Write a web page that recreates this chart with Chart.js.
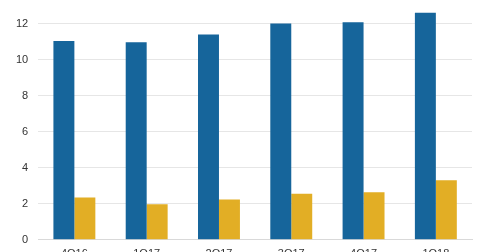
<!DOCTYPE html>
<html>
<head>
<meta charset="utf-8">
<script src="https://cdn.jsdelivr.net/npm/chart.js@4/dist/chart.umd.min.js"></script>
<style>
  html, body { margin: 0; padding: 0; background: #fff; }
  #wrap { width: 480px; height: 252px; overflow: hidden; }
  #chart { display: block; margin-top: -11px; }
</style>
</head>
<body>
<div id="wrap"><canvas id="chart" width="480" height="280"></canvas></div>
<script>
// quarters on the x axis
const quarters = ["4Q16", "1Q17", "2Q17", "3Q17", "4Q17", "1Q18"];
// blue series
const seriesA = [11.03, 10.96, 11.4, 12.0, 12.07, 12.6];
// yellow series
const seriesB = [2.35, 1.98, 2.24, 2.55, 2.64, 3.31];
// y tick labels
const yTicks = [0, 2, 4, 6, 8, 10, 12];

Chart.defaults.font.family = "'Liberation Sans', Arial, sans-serif";
Chart.defaults.font.size = 11;
Chart.defaults.color = "#333";

new Chart(document.getElementById("chart"), {
  type: "bar",
  data: {
    labels: quarters,
    datasets: [
      {
        data: seriesA,
        backgroundColor: "#16659b",
        categoryPercentage: 0.58,
        barPercentage: 1,
      },
      {
        data: seriesB,
        backgroundColor: "#e2ae25",
        categoryPercentage: 0.58,
        barPercentage: 1,
      },
    ],
  },
  options: {
    responsive: false,
    animation: false,
    layout: { padding: { top: 5, right: 8, left: 6, bottom: 0 } },
    plugins: { legend: { display: false }, tooltip: { enabled: false } },
    scales: {
      x: {
        grid: { display: false, drawTicks: false },
        border: { color: "#d9d9d9" },
        ticks: { padding: 8 },
      },
      y: {
        min: 0,
        max: 13,
        afterBuildTicks: (axis) => {
          axis.ticks = yTicks.map((v) => ({ value: v }));
        },
        grid: { color: "#e6e6e6", drawTicks: false },
        border: { display: false },
        ticks: { padding: 10 },
      },
    },
  },
});
</script>
</body>
</html>
